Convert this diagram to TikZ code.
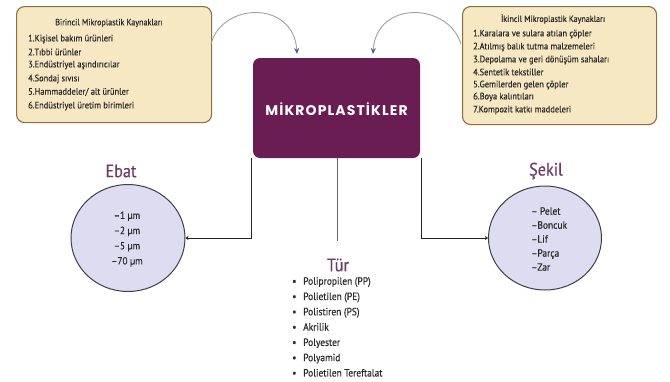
\documentclass[tikz,border=0pt]{standalone}
\usepackage{fontspec}
\setmainfont{PT Sans}[FakeStretch=0.9,FakeBold=0.35]
\newfontfamily\titlefont{Poppins}[LetterSpace=8]
\usetikzlibrary{arrows.meta,shapes.geometric}
\definecolor{boxfill}{HTML}{F6E8C3}
\definecolor{boxline}{HTML}{8E6E3E}
\definecolor{centerfill}{HTML}{6A1D52}
\definecolor{circfill}{HTML}{DEDCF1}
\definecolor{circline}{HTML}{3E3E46}
\definecolor{labelcol}{HTML}{6C3A67}
\definecolor{arcgray}{HTML}{9AA0AC}
\definecolor{arctip}{HTML}{4D5C8C}
\definecolor{txt}{HTML}{2A2A2A}
\tikzset{
  srcbox/.style={draw=boxline, line width=1.1pt, fill=boxfill, rounded corners=8pt, inner sep=0pt},
  boxtitle/.style={font=\fontsize{9}{11}\selectfont, text=txt, inner sep=0pt},
  boxitem/.style={font=\fontsize{9.4}{11}\selectfont, text=txt, inner sep=0pt, anchor=west},
  centerbox/.style={fill=centerfill, rounded corners=7pt, inner sep=0pt, minimum width=167pt, minimum height=100pt},
  circ/.style={ellipse, draw=circline, line width=1pt, fill=circfill, inner sep=0pt},
  biglabel/.style={font=\fontsize{18}{20}\selectfont, text=labelcol, inner sep=0pt},
  arcarrow/.style={draw=arcgray, line width=0.9pt, -{Stealth[length=6pt,width=5pt,color=arctip]}},
  conn/.style={draw=black!85, line width=0.9pt, -{Stealth[length=3pt,width=4pt]}},
  connplain/.style={draw=black!60, line width=0.9pt},
}
\begin{document}
\begin{tikzpicture}[x=1pt,y=-1pt]
\useasboundingbox (0,0) rectangle (670,381);
\fill[white] (0,0) rectangle (670,381);

% source boxes
\node[srcbox, minimum width=195pt, minimum height=116pt, anchor=north west] (prim) at (16,6) {};
\node[srcbox, minimum width=194pt, minimum height=118pt, anchor=north west] (sec) at (462,6) {};

\node[boxtitle] (primtitle) at (109,23) {Birincil Mikroplastik Kaynakları};
\node[boxitem] (p1) at (28,39) {1.Kişisel bakım ürünleri};
\node[boxitem] (p2) at (28,52) {2.Tıbbi ürünler};
\node[boxitem] (p3) at (28,65) {3.Endüstriyel aşındırıcılar};
\node[boxitem] (p4) at (28,79) {4.Sondaj sıvısı};
\node[boxitem] (p5) at (28,92) {5.Hammaddeler/ alt ürünler};
\node[boxitem] (p6) at (28,106) {6.Endüstriyel üretim birimleri};

\node[boxtitle] (sectitle) at (553,19) {İkincil Mikroplastik Kaynakları};
\node[boxitem] (s1) at (473,34) {1.Karalara ve sulara atılan çöpler};
\node[boxitem] (s2) at (473,47) {2.Atılmış balık tutma malzemeleri};
\node[boxitem] (s3) at (473,60) {3.Depolama ve geri dönüşüm sahaları};
\node[boxitem] (s4) at (473,72) {4.Sentetik tekstiller};
\node[boxitem] (s5) at (473,85) {5.Gemilerden gelen çöpler};
\node[boxitem] (s6) at (473,97) {6.Boya kalıntıları};
\node[boxitem] (s7) at (473,110) {7.Kompozit katkı maddeleri};

% center box
\node[centerbox] (box) at (336.5,108) {};
\node[font=\titlefont\bfseries\fontsize{14}{16}\selectfont, text=white, inner sep=0pt] (boxtext) at (336.5,109) {MİKROPLASTİKLER};

% arcs into center
\coordinate (la) at (211,44);
\coordinate (ra) at (461,44);
\coordinate (lt) at (297,54);
\coordinate (rt) at (373,54);
\draw[arcarrow] (la) .. controls (222,2) and (294,0) .. (lt);
\draw[arcarrow] (ra) .. controls (448,2) and (376,0) .. (rt);

% circles
\node[circ, minimum width=114pt, minimum height=107pt] (ebat) at (128,238) {};
\node[circ, minimum width=113pt, minimum height=104pt] (sekil) at (545,238) {};

\node[biglabel] (ebatlabel) at (121,171) {Ebat};
\node[biglabel] (sekillabel) at (546,171) {Şekil};
\node[biglabel] (turlabel) at (338,265) {Tür};

\node[font=\fontsize{10.3}{15.2}\selectfont, text=txt, align=center, inner sep=0pt] (ebattext) at (127,239)
  {–1 µm\\–2 µm\\–5 µm\\–70 µm};
\node[font=\fontsize{10.5}{14}\selectfont, text=txt, align=left, inner sep=0pt, anchor=west] (sekiltext) at (531,239)
  {– Pelet\\–Boncuk\\–Lif\\–Parça\\–Zar};

\node[font=\fontsize{10.5}{15.3}\selectfont, text=txt, align=left, inner sep=0pt, anchor=north west] (turtext) at (292,277)
  {\makebox[11pt][l]{•}Polipropilen (PP)\\
   \makebox[11pt][l]{•}Polietilen (PE)\\
   \makebox[11pt][l]{•}Polistiren (PS)\\
   \makebox[11pt][l]{•}Akrilik\\
   \makebox[11pt][l]{•}Polyester\\
   \makebox[11pt][l]{•}Polyamid\\
   \makebox[11pt][l]{•}Polietilen Tereftalat};

% connectors
\coordinate (turtop) at (337,241);
\draw[conn] ([xshift=-1pt]box.south west) |- (ebat.east);
\draw[conn] ([xshift=1pt]box.south east) |- (sekil.west);
\draw[connplain] (box.south -| turtop) -- (turtop);
\end{tikzpicture}
\end{document}
